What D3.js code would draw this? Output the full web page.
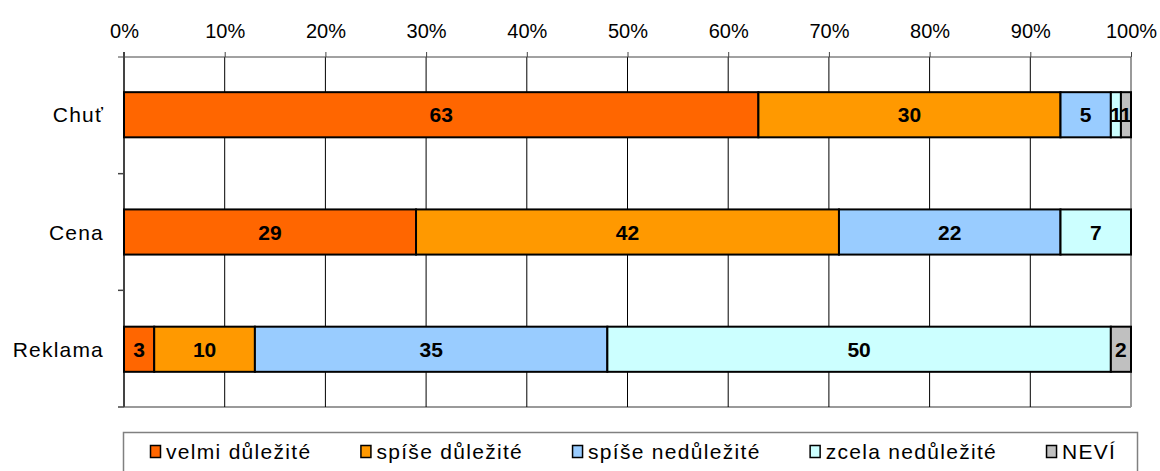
<!DOCTYPE html>
<html>
<head>
<meta charset="utf-8">
<script src="https://cdn.jsdelivr.net/npm/d3@7"></script>
<style>
  body { margin: 0; background: #fff; }
  svg { font-family: "Liberation Sans", Arial, sans-serif; }
</style>
</head>
<body>
<script>
// data (percent of answers)
const categories = ["Chuť", "Cena", "Reklama"];
const seriesNames = ["velmi důležité", "spíše důležité", "spíše nedůležité", "zcela nedůležité", "NEVÍ"];
const velmiDulezite = [63, 29, 3];
const spiseDulezite = [30, 42, 10];
const spiseNedulezite = [5, 22, 35];
const zcelaNedulezite = [1, 7, 50];
const nevi = [1, 0, 2];
const tickValues = [0, 10, 20, 30, 40, 50, 60, 70, 80, 90, 100];

const colors = ["#FF6600", "#FF9900", "#99CCFF", "#CCFFFF", "#C0C0C0"];

const width = 1160, height = 471;
const plot = { left: 124, right: 1131, top: 57, bottom: 407 };

const svg = d3.select("body").append("svg")
  .attr("width", width)
  .attr("height", height);

// build rows for the stack
const allSeries = [velmiDulezite, spiseDulezite, spiseNedulezite, zcelaNedulezite, nevi];
const rows = categories.map(function (c, i) {
  let r = { cat: c };
  seriesNames.forEach(function (s, j) { r[s] = allSeries[j][i]; });
  return r;
});
const stacked = d3.stack().keys(seriesNames)(rows);

const x = d3.scaleLinear().domain([0, 100]).range([plot.left, plot.right]);
const y = d3.scaleBand().domain(categories).range([plot.top, plot.bottom]).paddingInner(0.615).paddingOuter(0.3);

// grey plot border on right / bottom
svg.append("line")
  .attr("x1", plot.right).attr("x2", plot.right)
  .attr("y1", plot.top).attr("y2", plot.bottom)
  .attr("stroke", "#9a9a9a").attr("stroke-width", 2);
svg.append("line")
  .attr("x1", plot.left).attr("x2", plot.right)
  .attr("y1", plot.bottom).attr("y2", plot.bottom)
  .attr("stroke", "#9a9a9a").attr("stroke-width", 2);

// vertical grid lines
svg.append("g").selectAll("line")
  .data(tickValues.slice(1, -1))
  .join("line")
  .attr("x1", d => x(d)).attr("x2", d => x(d))
  .attr("y1", plot.top).attr("y2", plot.bottom)
  .attr("stroke", "#000").attr("stroke-width", 1);

// top axis
const xAxis = d3.axisTop(x)
  .tickValues(tickValues)
  .tickFormat(d => d + "%")
  .tickSize(5)
  .tickPadding(14);
const gx = svg.append("g")
  .attr("transform", "translate(0," + plot.top + ")")
  .call(xAxis);
gx.select(".domain").attr("stroke", "#444").attr("d", "M" + (plot.left - 6) + ",0H" + plot.right);
gx.selectAll(".tick line").attr("stroke", "#444");
gx.selectAll("text")
  .attr("font-size", 20)
  .attr("fill", "#000")
  .attr("font-family", "Liberation Sans, Arial, sans-serif");

// left axis line and ticks on category borders
svg.append("line")
  .attr("x1", plot.left).attr("x2", plot.left)
  .attr("y1", plot.top - 5).attr("y2", plot.bottom)
  .attr("stroke", "#444").attr("stroke-width", 2);
const step = (plot.bottom - plot.top) / categories.length;
svg.append("g").selectAll("line")
  .data(d3.range(1, categories.length + 1))
  .join("line")
  .attr("x1", plot.left - 6).attr("x2", plot.left)
  .attr("y1", d => plot.top + d * step).attr("y2", d => plot.top + d * step)
  .attr("stroke", "#444").attr("stroke-width", 1.5);

// category labels
svg.append("g").selectAll("text")
  .data(categories)
  .join("text")
  .attr("x", 104)
  .attr("y", d => y(d) + y.bandwidth() / 2)
  .attr("dy", "0.36em")
  .attr("text-anchor", "end")
  .attr("font-size", 21)
  .attr("letter-spacing", 1.2)
  .text(d => d);

// bars
const layer = svg.append("g").selectAll("g")
  .data(stacked)
  .join("g")
  .attr("fill", (d, i) => colors[i]);

layer.selectAll("rect")
  .data(d => d.filter(p => p[1] - p[0] > 0))
  .join("rect")
  .attr("x", d => x(d[0]))
  .attr("y", d => y(d.data.cat))
  .attr("width", d => x(d[1]) - x(d[0]))
  .attr("height", y.bandwidth())
  .attr("stroke", "#000")
  .attr("stroke-width", 2);

// value labels
layer.selectAll("text")
  .data(d => d.filter(p => p[1] - p[0] > 0))
  .join("text")
  .attr("x", d => (x(d[0]) + x(d[1])) / 2)
  .attr("y", d => y(d.data.cat) + y.bandwidth() / 2)
  .attr("dy", "0.36em")
  .attr("text-anchor", "middle")
  .attr("font-size", 21)
  .attr("font-weight", "bold")
  .attr("fill", "#000")
  .text(d => d[1] - d[0]);

// legend
svg.append("rect")
  .attr("x", 123.5).attr("y", 432.5)
  .attr("width", 1014).attr("height", 50)
  .attr("fill", "none")
  .attr("stroke", "#808080")
  .attr("stroke-width", 1.5);

const legend = svg.append("g");
let lx = 150;
seriesNames.forEach(function (s, i) {
  legend.append("rect")
    .attr("x", lx + 0.5).attr("y", 445.5)
    .attr("width", 10).attr("height", 12)
    .attr("fill", colors[i])
    .attr("stroke", "#000")
    .attr("stroke-width", 1.5);
  let t = legend.append("text")
    .attr("x", lx + 16)
    .attr("y", 459)
    .attr("font-size", 21)
    .attr("letter-spacing", 1.3)
    .text(s);
  lx += 16 + t.node().getComputedTextLength() + 49;
});
</script>
</body>
</html>
